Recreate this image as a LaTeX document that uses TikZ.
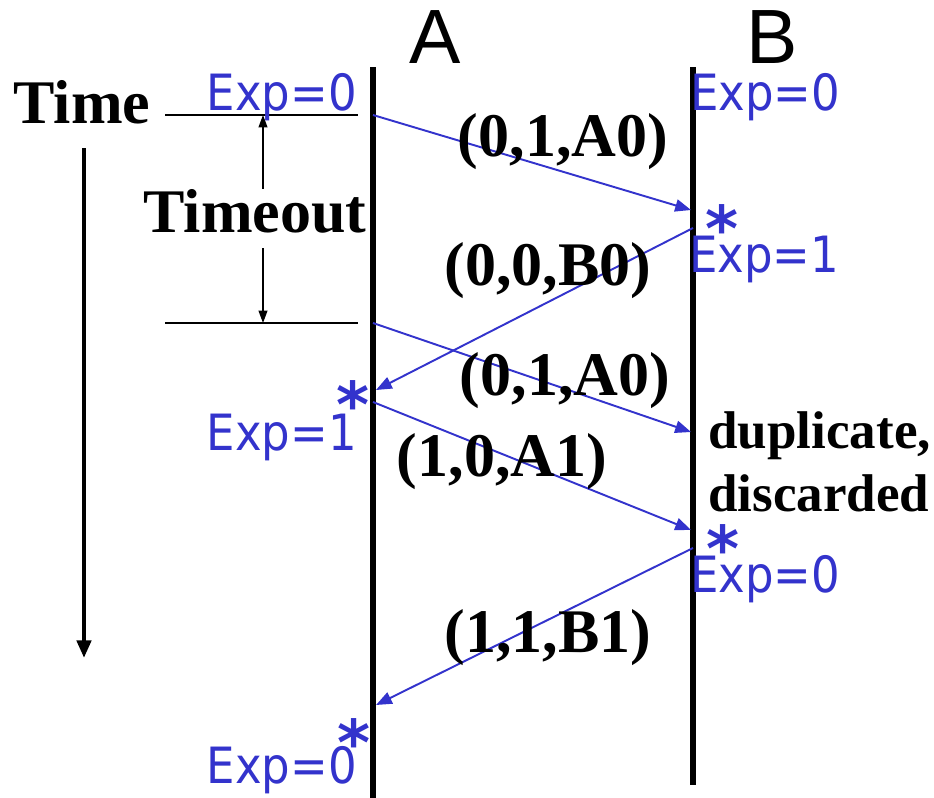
\documentclass[tikz,border=0pt]{standalone}
\usepackage{fontspec}
\setmainfont{Liberation Serif}
\newfontfamily\lanefont{Liberation Sans}
\newfontfamily\expfont[FakeStretch=0.9]{DejaVu Sans}
\newfontfamily\starfont{DejaVu Sans}
\usepackage{xcolor}
\usepackage{tikz}
\usetikzlibrary{arrows.meta}
\definecolor{seqblue}{RGB}{51, 51, 204}

\begin{document}
\begin{tikzpicture}[x=0.02cm, y=-0.02cm, >={Triangle[length=9pt, width=7pt]},
        every node/.style={inner sep=0pt},
        lane/.style={line width=3.2pt},
        msg/.style={->, seqblue, line width=1.1pt},
        thinline/.style={line width=0.85pt},
        pkt/.style={font=\fontsize{35.3}{40}\selectfont\bfseries, anchor=base},
        expval/.style={font=\expfont\fontsize{28.45}{32}\selectfont, text=seqblue},
        ackstar/.style={font=\starfont\bfseries\fontsize{36}{40}\selectfont, text=seqblue, anchor=base,
            text height=0.76em, text depth=-0.42em}]
        \useasboundingbox (0,0) rectangle (934,798);

        % lifelines
        \coordinate (atop) at (373,67);
        \coordinate (abot) at (373,798);
        \coordinate (btop) at (693,67);
        \coordinate (bbot) at (693,785);
        \draw[lane] (atop) -- (abot);
        \draw[lane] (btop) -- (bbot);
        \node[font=\lanefont\fontsize{43.8}{48}\selectfont, anchor=base] (alabel) at (435,63) {A};
        \node[font=\lanefont\fontsize{43.8}{48}\selectfont, anchor=base] (blabel) at (772,63) {B};

        % time axis
        \node[font=\fontsize{35.3}{40}\selectfont\bfseries, anchor=base] (time) at (82,123) {Time};
        \coordinate (tstart) at (84,148);
        \coordinate (tend) at (84,658);
        \draw[->, line width=2.4pt, >={Triangle[length=10pt, width=8pt]}] (tstart) -- (tend);

        % timeout interval
        \coordinate (h1l) at (165,115);
        \coordinate (h1r) at (358,115);
        \coordinate (h2l) at (165,323);
        \coordinate (h2r) at (358,323);
        \draw[thinline] (h1l) -- (h1r);
        \draw[thinline] (h2l) -- (h2r);
        \node[font=\fontsize{35.3}{40}\selectfont\bfseries, anchor=base] (timeout) at (255,232) {Timeout};
        \coordinate (to1) at (263,115);
        \coordinate (to1b) at (263,189);
        \coordinate (to2b) at (263,248);
        \coordinate (to2) at (263,323);
        \draw[thinline, <-, >={Triangle[length=7pt, width=5pt]}] (to1) -- (to1b);
        \draw[thinline, ->, >={Triangle[length=7pt, width=5pt]}] (to2b) -- (to2);

        % messages
        \coordinate (m1s) at (373,115);
        \coordinate (m1e) at (691,210);
        \coordinate (m2s) at (693,228);
        \coordinate (m2e) at (376,390);
        \coordinate (m3s) at (373,323);
        \coordinate (m3e) at (691,432);
        \coordinate (m4s) at (373,402);
        \coordinate (m4e) at (691,530);
        \coordinate (m5s) at (693,548);
        \coordinate (m5e) at (376,705);
        \draw[msg] (m1s) -- (m1e);
        \draw[msg] (m2s) -- (m2e);
        \draw[msg] (m3s) -- (m3e);
        \draw[msg] (m4s) -- (m4e);
        \draw[msg] (m5s) -- (m5e);

        \node[pkt] (p1) at (563,156) {(0,1,A0)};
        \node[pkt] (p2) at (548,285) {(0,0,B0)};
        \node[pkt] (p3) at (565,395) {(0,1,A0)};
        \node[pkt] (p4) at (502,476) {(1,0,A1)};
        \node[pkt] (p5) at (548,652) {(1,1,B1)};

        % expected sequence numbers
        \node[expval, anchor=base east] (expa0) at (357,110) {Exp=0};
        \node[expval, anchor=base west] (expb0) at (690,110) {Exp=0};
        \node[expval, anchor=base west] (expb1) at (689,272) {Exp=1};
        \node[expval, anchor=base east] (expa1) at (357,450) {Exp=1};
        \node[expval, anchor=base west] (expb2) at (690,592) {Exp=0};
        \node[expval, anchor=base east] (expa2) at (357,783) {Exp=0};

        \node[ackstar] (sb1) at (722,251) {*};
        \node[ackstar] (sa1) at (353,427) {*};
        \node[ackstar] (sb2) at (723,571) {*};
        \node[ackstar] (sa2) at (354,765) {*};

        \node[font=\fontsize{30.2}{35.9}\selectfont\bfseries, align=left, anchor=north west] (dup) at (708,411) {duplicate,\\discarded};
    \end{tikzpicture}
\end{document}
